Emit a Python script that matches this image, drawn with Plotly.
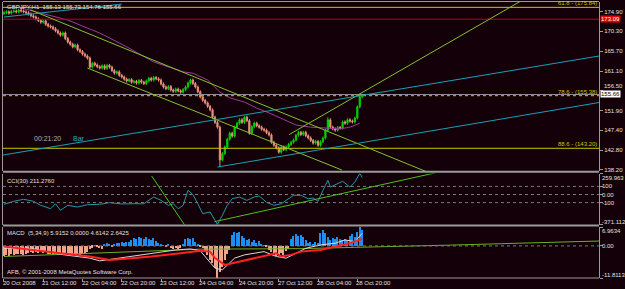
import plotly.graph_objects as go

# ---------------- data ----------------
title_text = "GBPJPY,H1  155.13 155.73 154.76 155.66"
closes = [
    174.6, 174.8, 174.5, 174.9, 175.0, 174.8, 175.2, 175.0, 174.8, 174.6,
    174.3, 173.9, 173.6, 173.2, 172.8, 172.4, 172.7, 171.9, 171.5, 171.3,
    170.9, 170.4, 169.9, 169.4, 169.9, 168.6, 167.8, 167.3, 166.7, 167.1,
    166.0, 165.6, 165.0, 164.6, 164.1, 162.0, 162.9, 162.5, 162.1, 161.8,
    162.3, 161.7, 162.4, 162.0, 161.2, 160.6, 160.9, 160.1, 159.7, 159.2,
    158.8, 159.1, 158.5, 158.7, 158.3, 158.9, 158.5, 158.2, 158.8, 159.4,
    159.0, 159.6, 159.3, 159.0, 158.1, 157.4, 157.0, 157.5, 156.7, 156.4,
    156.9, 156.5, 156.2, 156.8, 157.4, 158.3, 159.0, 158.2, 157.4, 156.3,
    155.1, 154.3, 153.7, 152.9, 152.1, 150.4, 149.2, 148.1, 140.5, 142.0,
    143.5, 145.3, 146.7, 146.0, 148.1, 149.0, 149.8, 149.2, 150.4, 149.6,
    146.7, 148.2, 149.0, 148.4, 148.1, 147.6, 147.4, 146.8, 146.3, 144.6,
    143.9, 143.3, 142.3, 143.5, 142.9, 143.5, 144.1, 144.6, 145.1, 146.2,
    146.9, 146.4, 146.9, 146.1, 145.6, 145.0, 144.4, 144.8, 143.9, 144.7,
    145.6, 147.4, 149.8, 148.1, 147.7, 147.4, 148.0, 147.9, 149.3, 149.0,
    149.8, 149.5, 149.3, 150.2, 152.8, 155.13, 155.66,
]
first_open = 174.4
extreme_highs = {146: 155.73, 132: 150.4}
extreme_lows = {88: 138.9, 146: 154.76}

ma_idx = [7, 26, 39, 50, 61, 73, 77, 83, 88, 92, 98, 103, 108, 114, 119, 125, 130, 137, 141, 145]
ma_val = [175.7, 172.9, 169.9, 166.7, 163.2, 160.9, 160.6, 159.0, 156.2, 154.9, 153.9,
          152.5, 151.4, 149.8, 148.6, 148.1, 147.9, 147.7, 148.1, 149.0]

price_ticks = [174.90, 170.30, 165.70, 161.10, 156.50, 151.90, 147.40, 142.80, 138.20]
hidden_tick = 156.50
fibo_levels = [175.84, 155.38, 143.20]
fibo_names = ["61.8 - (175.84)", "78.6 - (155.38)", "88.6 - (143.20)"]
red_level = 173.09
bid = 155.66

# trendlines: (bar0, price0, bar1, price1)
green_lines = [(10.9, 175.22, 172.9, 137.61), (34.0, 161.79, 137.7, 138.17), (116.2, 146.37, 213.4, 178.2)]
cyan_lines = [(-0.4, 141.64, 242.5, 164.57), (87.0, 138.86, 242.5, 153.80), (0.0, 173.6, 48.0, 176.6)]

cci_idx = [0, 4, 8, 12, 15, 19, 21, 23, 26, 30, 34, 39, 43, 48, 53, 57, 61, 64, 67, 69, 71, 73,
           75, 77, 79, 81, 84, 87, 89, 91, 93, 96, 99, 102, 104, 107, 110, 113, 115, 118, 121,
           124, 126, 128, 130, 132, 133, 136, 138, 141, 143, 145, 146]
cci_val = [-121, -84, -59, -84, -134, -176, -114, -195, -134, -155, -126, -121, -101, -117, -114,
           -114, -31, -72, -134, -114, -176, -134, 52, -2, -114, -237, -216, -371.112, -257, -134,
           -52, -31, -72, -31, -18, -96, -134, -114, -72, -10, -10, -52, -43, -84, 52, 176, 93,
           134, 163, 93, 155, 259.963, 211.276]
cci_range = [-371.112, 259.963]
cci_levels = [100, 0, -100]
cci_lines = [(85.8, -336.5, 176.1, 270.0), (60.2, 229.0, 73.7, -381.0)]

macd_hist = [
    -3.6, -3.4, -3.8,
    -3.0, -3.2, -2.8, -3.1, -2.9, -3.3, -3.0, -2.6,
    -2.4, -2.7, -2.2, -2.5, -2.0, -2.6, -2.3, -2.8,
    -3.0, -3.2, -2.7, -3.1, -2.9, -2.5, -3.3, -3.0,
    -2.8, -3.2, -3.5, -2.9, -3.4, -3.1, -2.6, -2.2,
    -1.2, -0.6, 0.3, -0.4,
    -0.8, -1.0, 0.6, 1.1, 0.4, -0.3,
    0.8, 1.2, 0.9, 1.4, 1.0, 1.6, 1.3,
    2.2, 2.8, 2.5, 3.4, 3.0, 2.6, 3.3, 2.7, 2.3, 2.9, 1.8, 1.2,
    0.6, 0.3, -0.2, 0.4,
    -0.8, -1.2, -0.9, -1.3, -0.6,
    0.5,
    2.6, 3.0, 2.4, 2.8, 1.6,
    0.4, -0.3, -0.9,
    -2.2, -3.4, -5.0, -6.3, -8.2, -11.8113, -9.6, -7.8, -5.2, -3.0, -1.6,
    4.1, 5.3, 4.6, 5.0, 3.8, 2.9,
    2.0, 2.5, 1.6, 2.2, 1.2, 1.8,
    0.6, 0.2, -0.5,
    -1.6, -2.3, -3.1, -3.8, -3.5, -2.7, -3.3, -2.0, -1.1,
    2.4, 3.6, 4.5, 3.8, 4.2, 3.1, 2.2,
    1.0, 1.3, 0.7, 1.5, 1.1,
    4.6, 5.9, 4.8, 3.4,
    2.2, 2.9, 2.4, 3.1, 2.6, 2.0, 2.7, 2.3,
    3.6, 4.4, 3.2, 5.0, 6.9634, 5.9152,
]
signal_idx = [0, 11, 23, 35, 43, 52, 60, 72, 80, 84, 86, 90, 96, 102, 106, 111, 113, 117, 121, 129, 135, 141, 146]
signal_val = [-0.25, -1.5, -2.7, -3.9, -5.2, -4.5, -3.9, -2.7, -1.8, -2.1, -4.5, -7.0, -5.8, -4.5,
              -3.9, -2.7, -3.9, -3.3, -2.1, -1.5, -0.25, 1.0, 2.6425]
main_idx = [0, 11, 23, 35, 39, 52, 60, 70, 76, 80, 86, 89, 94, 98, 102, 106, 111, 115, 119, 123, 129, 135, 139, 143, 146]
main_val = [-0.86, -0.86, -3.1, -4.5, -5.5, -3.9, -2.7, -1.5, -1.1, -1.8, -8.2, -8.8, -4.5, -3.3,
            -2.7, -2.1, -3.9, -4.5, -2.7, -0.86, 0.37, 1.0, 2.2, 1.6, 4.6142]
green_idx = [0, 80, 121, 149, 182, 210, 242.5]
green_val = [-3.9, -1.2, -1.0, -0.5, 0.3, 1.0, 1.8]
macd_range = [-11.8113, 6.9634]

date_idx = [0, 16, 32, 48, 64, 80, 96, 112, 128, 144]
date_text = ["20 Oct 2008", "21 Oct 12:00", "22 Oct 04:00", "22 Oct 20:00", "23 Oct 12:00",
             "24 Oct 04:00", "24 Oct 20:00", "27 Oct 12:00", "28 Oct 04:00", "28 Oct 20:00"]

# ---------------- build ----------------
n = len(closes)
idx = list(range(n))
opens = [first_open] + closes[:-1]
highs = [extreme_highs.get(i, max(o, c) + 0.35) for i, (o, c) in enumerate(zip(opens, closes))]
lows = [extreme_lows.get(i, min(o, c) - 0.35) for i, (o, c) in enumerate(zip(opens, closes))]

BG = "#140008"
FONT = "Liberation Sans"
TXT = "#e0e0e0"
GRAY = "#9a9a9a"
LIME = "#00d000"
SALMON = "#e8907c"
TREND = "#86c232"
CYAN = "#1aa0b4"
YEL = "#c8c800"

fig = go.Figure()

fig.add_trace(go.Scatter(x=ma_idx, y=ma_val, mode="lines", line=dict(color="#9a3c9a", width=1),
                         xaxis="x", yaxis="y", hoverinfo="skip"))
fig.add_trace(go.Candlestick(x=idx, open=opens, high=highs, low=lows, close=closes,
                             increasing=dict(line=dict(color=LIME, width=1), fillcolor=LIME),
                             decreasing=dict(line=dict(color=SALMON, width=1), fillcolor=SALMON),
                             whiskerwidth=0, xaxis="x", yaxis="y"))

fig.add_trace(go.Scatter(x=cci_idx, y=cci_val, mode="lines", line=dict(color="#2298a8", width=1),
                         xaxis="x2", yaxis="y2", hoverinfo="skip"))

hist_colors = ["#1e8ff0" if v >= 0 else "#f2a488" for v in macd_hist]
fig.add_trace(go.Bar(x=idx, y=macd_hist, marker=dict(color=hist_colors, line=dict(width=0)),
                     width=0.6, xaxis="x3", yaxis="y3"))
fig.add_trace(go.Scatter(x=green_idx, y=green_val, mode="lines", line=dict(color="#6cb020", width=1),
                         xaxis="x3", yaxis="y3"))
fig.add_trace(go.Scatter(x=main_idx, y=main_val, mode="lines", line=dict(color="#d8d8d8", width=1),
                         xaxis="x3", yaxis="y3"))
fig.add_trace(go.Scatter(x=signal_idx, y=signal_val, mode="lines", line=dict(color="#ff2020", width=2),
                         xaxis="x3", yaxis="y3"))

shapes = []
shapes.append(dict(type="line", xref="paper", yref="y", x0=0, x1=1, y0=red_level, y1=red_level,
                   line=dict(color="#c00000", width=1)))
shapes.append(dict(type="line", xref="paper", yref="y", x0=0, x1=1, y0=bid, y1=bid,
                   line=dict(color="#909090", width=1)))
for lv, dash in zip(fibo_levels, ["solid", "dot", "solid"]):
    shapes.append(dict(type="line", xref="paper", yref="y", x0=0, x1=1, y0=lv, y1=lv,
                       line=dict(color=YEL, width=1, dash=dash)))
for (a0, b0, a1, b1) in green_lines:
    shapes.append(dict(type="line", xref="x", yref="y", x0=a0, y0=b0, x1=a1, y1=b1,
                       line=dict(color=TREND, width=1)))
for (a0, b0, a1, b1) in cyan_lines:
    shapes.append(dict(type="line", xref="x", yref="y", x0=a0, y0=b0, x1=a1, y1=b1,
                       line=dict(color=CYAN, width=1)))
for lv in cci_levels:
    shapes.append(dict(type="line", xref="paper", yref="y2", x0=0, x1=1, y0=lv, y1=lv,
                       line=dict(color="#7a7a7a", width=1, dash="dot")))
for (a0, b0, a1, b1) in cci_lines:
    shapes.append(dict(type="line", xref="x2", yref="y2", x0=a0, y0=b0, x1=a1, y1=b1,
                       line=dict(color="#4cc020", width=1)))
shapes.append(dict(type="line", xref="paper", yref="y3", x0=0, x1=1, y0=0, y1=0,
                   line=dict(color="#7a7a7a", width=1, dash="dot")))
H = 276.0
for ypx, w in [(171.8, 2), (225.6, 2), (278, 1), (1.5, 1)]:
    yy = (278 - ypx) / H
    shapes.append(dict(type="line", xref="paper", yref="paper", x0=0, x1=1, y0=yy, y1=yy,
                       line=dict(color=GRAY, width=w)))

ann = []
def note(text, x, y, xref="paper", yref="paper", color=TXT, xanchor="left", yanchor="middle",
         bg=None, xshift=0, yshift=0, size=6):
    d = dict(text=text, x=x, y=y, xref=xref, yref=yref, showarrow=False, xanchor=xanchor,
             yanchor=yanchor, font=dict(family=FONT, size=size, color=color), xshift=xshift,
             yshift=yshift, borderpad=0)
    if bg:
        d["bgcolor"] = bg
    ann.append(d)

note(title_text, 0, 1, xshift=3, yanchor="top", yshift=-1)
note("CCI(30) 211.2760", 0, cci_range[1], yref="y2", yanchor="top", xshift=3, yshift=-3)
note("MACD  (5,34,9) 5.9152 0.0000 4.6142 2.6425", 0, macd_range[1], yref="y3", yanchor="top",
     xshift=3, yshift=-2)
note("AFB, \u00a9 2001-2008 MetaQuotes Software Corp.", 0, 0, yanchor="bottom", xshift=3, yshift=2)
note("00:21:20", 0.05, (278 - 138) / H, color="#b0b0b0", size=7)
note("Bar", 0.116, (278 - 138) / H, color="#20b0c0", size=7)
for lv, nm in zip(fibo_levels, fibo_names):
    note(nm, 1, lv, yref="y", color=YEL, xanchor="right", yanchor="bottom", xshift=-1)
note("173.09", 1, red_level, yref="y", color="#ffffff", bg="#e00000", xshift=1)
note("155.66", 1, bid, yref="y", color="#000000", bg="#ffffff", xshift=1)
note("%.2f" % hidden_tick, 1, bid, yref="y", yanchor="bottom", xshift=4, yshift=4)
for v, t, sh in [(259.963, "259.963", -4), (100, "100", 0), (0, "0.00", 0), (-100, "-100", 0),
                 (-371.112, "-371.112", 3)]:
    note(t, 1, v, yref="y2", xshift=2, yshift=sh)
for v, t, sh in [(6.9634, "6.9634", -4), (0, "0.00", 0), (-11.8113, "-11.8113", 3)]:
    note(t, 1, v, yref="y3", xshift=2, yshift=sh)
for i, t in zip(date_idx, date_text):
    note(t, i, 0, xref="x3", yanchor="top", xshift=-2, yshift=-1)

xr = [-0.405, 242.5]
xcommon = dict(range=xr, showgrid=False, zeroline=False, showticklabels=False, showline=False)
ycommon = dict(showgrid=False, zeroline=False, side="right", showline=True, linecolor=GRAY,
               linewidth=1, mirror=True, ticks="outside", ticklen=3, tickcolor=GRAY,
               tickfont=dict(family=FONT, size=6, color=TXT))

fig.update_layout(
    width=625, height=289,
    margin=dict(l=2, r=23, t=2, b=11),
    paper_bgcolor=BG, plot_bgcolor=BG,
    showlegend=False, bargap=0,
    xaxis=dict(**xcommon, domain=[0, 1], anchor="y", rangeslider=dict(visible=False)),
    xaxis2=dict(**xcommon, domain=[0, 1], anchor="y2", matches="x"),
    xaxis3=dict(range=xr, showgrid=False, zeroline=False, showticklabels=False, showline=False,
                domain=[0, 1], anchor="y3", matches="x", ticks="outside", ticklen=3,
                tickcolor=GRAY, tickvals=date_idx),
    yaxis=dict(**ycommon, domain=[(278 - 171) / H, 1.0], range=[137.94, 177.08],
               tickvals=price_ticks,
               ticktext=["" if v == hidden_tick else "%.2f" % v for v in price_ticks]),
    yaxis2=dict(**ycommon, domain=[(278 - 224.5) / H, (278 - 173.5) / H], range=cci_range,
                tickvals=[259.963, 100, 0, -100, -371.112], showticklabels=False),
    yaxis3=dict(**ycommon, domain=[0, (278 - 227) / H], range=macd_range,
                tickvals=[6.9634, 0, -11.8113], showticklabels=False),
    shapes=shapes, annotations=ann,
)

fig.write_html("out.html")
